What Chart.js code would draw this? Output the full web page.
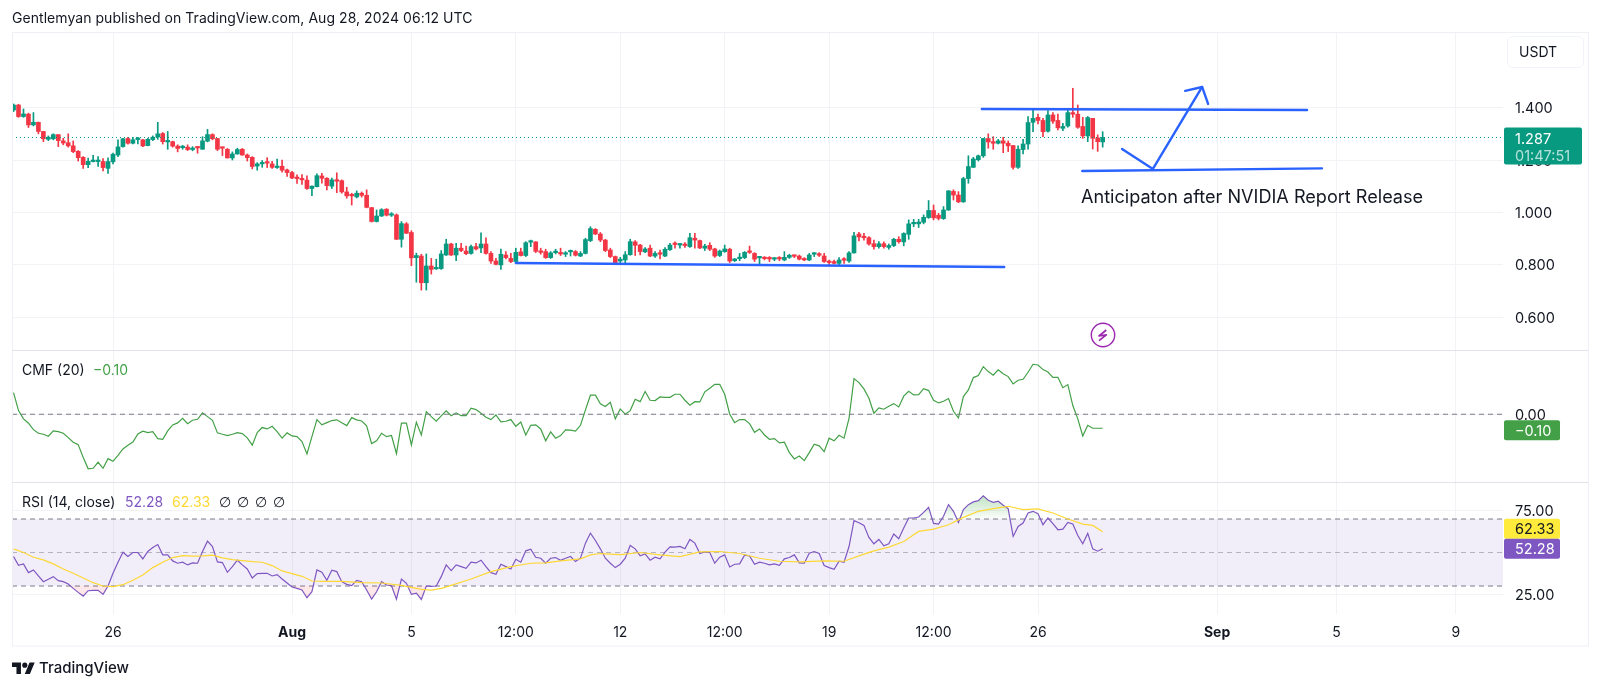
<!DOCTYPE html>
<html>
<head>
<meta charset="utf-8">
<script src="https://cdn.jsdelivr.net/npm/chart.js@4/dist/chart.umd.js"></script>
<style>
  html, body { margin: 0; background: #fff; }
  body { width: 1600px; height: 688px; position: relative; overflow: hidden; font-family: Inter, sans-serif; color: #131722; }
  canvas { position: absolute; left: 0; top: 0; }
  .t { position: absolute; white-space: nowrap; font-size: 14px; line-height: 18px; }
</style>
</head>
<body>
<canvas id="chart" width="1600" height="688"></canvas>
<div class="t" style="left:12px;top:9px;letter-spacing:.05px">Gentlemyan published on TradingView.com, Aug 28, 2024 06:12 UTC</div>
<div class="t" style="left:1507px;top:36px;width:75px;height:30px;border:1px solid #f0f3fa;border-radius:6px;line-height:30px;text-indent:11px">USDT</div>
<div class="t" style="left:22px;top:361px">CMF (20)</div>
<div class="t" style="left:93px;top:361px;color:#43a047">−0.10</div>
<div class="t" style="left:22px;top:493px">RSI (14, close)</div>
<div class="t" style="left:125px;top:493px;color:#7e57c2">52.28</div>
<div class="t" style="left:172px;top:493px;color:#fdd835">62.33</div>
<div class="t" style="left:219px;top:493px;font-family:'DejaVu Sans'">∅</div>
<div class="t" style="left:237px;top:493px;font-family:'DejaVu Sans'">∅</div>
<div class="t" style="left:255px;top:493px;font-family:'DejaVu Sans'">∅</div>
<div class="t" style="left:273px;top:493px;font-family:'DejaVu Sans'">∅</div>
<div class="t" style="left:1081px;top:185px;font-size:18.1px;line-height:22px">Anticipaton after NVIDIA Report Release</div>
<svg style="position:absolute;left:1089px;top:321px" width="28" height="28" viewBox="0 0 28 28">
  <circle cx="14" cy="14" r="11.7" fill="#fff" stroke="#9c27b0" stroke-width="1.4"/>
  <path d="M17.3 9L10 15l7.3-1.2L10 19.7" fill="none" stroke="#9c27b0" stroke-width="1.7" stroke-linejoin="round"/>
</svg>
<svg style="position:absolute;left:12px;top:660px" width="23" height="18" viewBox="0 0 36 28">
  <path d="M14 22H7V11H0V4h14v18zM28 22h-8l7.5-18h8L28 22z" fill="#131722"/><circle cx="20" cy="8" r="4" fill="#131722"/>
</svg>
<div class="t" style="left:39px;top:657px;font-size:15px;line-height:22px;font-weight:500">TradingView</div>
<script>
const opens = [
  1.392,1.411,1.367,1.376,1.335,1.345,1.310,1.280,1.282,1.298,
  1.274,1.267,1.255,1.234,1.211,1.183,1.195,1.195,1.195,1.169,
  1.194,1.220,1.252,1.283,1.265,1.279,1.278,1.256,1.279,1.289,
  1.302,1.270,1.271,1.254,1.248,1.250,1.241,1.250,1.242,1.273,
  1.298,1.283,1.248,1.242,1.209,1.224,1.242,1.220,1.211,1.178,
  1.186,1.191,1.186,1.172,1.177,1.163,1.153,1.132,1.130,1.124,
  1.092,1.099,1.140,1.131,1.101,1.125,1.122,1.079,1.069,1.060,
  1.074,1.066,1.019,.966,.987,1.013,.990,.991,.898,.957,
  .924,.828,.834,.732,.796,.785,.786,.838,.880,.838,
  .864,.853,.844,.870,.865,.880,.844,.815,.800,.838,
  .825,.813,.850,.836,.887,.888,.853,.851,.828,.847,
  .847,.841,.850,.851,.834,.844,.893,.936,.918,.895,
  .857,.832,.815,.819,.839,.888,.876,.850,.864,.834,
  .844,.834,.858,.881,.876,.879,.870,.902,.893,.864,
  .875,.861,.836,.851,.860,.816,.824,.828,.852,.844,
  .827,.828,.827,.822,.828,.819,.829,.836,.834,.824,
  .819,.841,.843,.834,.813,.813,.806,.823,.815,.846,
  .918,.909,.904,.881,.870,.881,.867,.874,.898,.888,
  .917,.957,.957,.963,.981,1.008,.990,.977,1.010,1.081,
  1.067,1.041,1.130,1.173,1.202,1.217,1.283,1.271,1.265,1.274,
  1.265,1.256,1.173,1.241,1.262,1.345,1.364,1.352,1.311,1.373,
  1.352,1.322,1.331,1.382,1.376,1.329,1.293,1.360,1.285,1.270
];
const closes = [
  1.411,1.367,1.377,1.335,1.345,1.310,1.282,1.288,1.298,1.275,
  1.266,1.255,1.233,1.210,1.183,1.196,1.197,1.197,1.172,1.195,
  1.223,1.251,1.282,1.265,1.278,1.284,1.255,1.280,1.288,1.301,
  1.271,1.274,1.254,1.245,1.252,1.241,1.245,1.247,1.274,1.298,
  1.282,1.242,1.246,1.209,1.224,1.241,1.220,1.210,1.176,1.186,
  1.189,1.189,1.173,1.176,1.162,1.153,1.132,1.130,1.125,1.092,
  1.101,1.141,1.131,1.103,1.125,1.120,1.079,1.064,1.064,1.074,
  1.066,1.020,.966,.987,1.011,.990,.995,.898,.958,.921,
  .827,.836,.732,.796,.783,.787,.842,.880,.838,.864,
  .855,.843,.870,.861,.880,.844,.815,.802,.841,.828,
  .813,.848,.836,.885,.890,.852,.848,.828,.846,.851,
  .842,.844,.853,.837,.844,.897,.939,.918,.895,.855,
  .832,.809,.822,.839,.889,.875,.851,.861,.834,.844,
  .841,.860,.876,.878,.879,.874,.904,.895,.865,.872,
  .860,.834,.853,.861,.815,.823,.829,.848,.848,.822,
  .829,.824,.823,.825,.823,.829,.837,.833,.822,.819,
  .838,.844,.837,.813,.809,.806,.819,.818,.846,.911,
  .907,.904,.880,.870,.881,.870,.874,.898,.889,.920,
  .957,.962,.964,.982,1.008,.980,.978,1.010,1.083,1.067,
  1.041,1.130,1.176,1.205,1.217,1.283,1.270,1.265,1.274,1.265,
  1.255,1.173,1.242,1.262,1.344,1.360,1.352,1.309,1.373,1.349,
  1.324,1.329,1.382,1.376,1.326,1.293,1.363,1.284,1.271,1.287
];
const highs = [
  1.415,1.414,1.396,1.380,1.382,1.346,1.310,1.293,1.301,1.298,
  1.284,1.301,1.274,1.237,1.214,1.208,1.219,1.214,1.206,1.209,
  1.227,1.278,1.284,1.288,1.288,1.288,1.280,1.284,1.293,1.345,
  1.306,1.310,1.273,1.259,1.257,1.259,1.252,1.252,1.290,1.318,
  1.301,1.284,1.250,1.245,1.232,1.246,1.245,1.224,1.214,1.191,
  1.199,1.210,1.196,1.204,1.201,1.166,1.158,1.144,1.145,1.140,
  1.102,1.148,1.150,1.134,1.132,1.152,1.125,1.097,1.074,1.083,
  1.079,1.087,1.020,1.010,1.015,1.015,1.000,.995,.966,.962,
  .931,.845,.841,.842,.825,.822,.855,.898,.883,.883,
  .883,.872,.876,.883,.923,.904,.851,.825,.861,.851,
  .844,.864,.864,.889,.895,.889,.864,.860,.851,.860,
  .864,.851,.857,.855,.851,.902,.946,.939,.924,.898,
  .864,.834,.829,.851,.898,.893,.879,.866,.876,.851,
  .857,.866,.883,.888,.883,.885,.921,.921,.895,.879,
  .885,.864,.857,.876,.864,.825,.844,.851,.872,.847,
  .832,.832,.832,.828,.832,.851,.841,.838,.838,.828,
  .844,.847,.847,.844,.819,.819,.828,.828,.851,.925,
  .925,.921,.908,.895,.889,.888,.880,.902,.908,.923,
  .972,.974,.974,.991,1.046,1.029,.997,1.023,1.084,1.087,
  1.080,1.135,1.217,1.211,1.220,1.284,1.301,1.290,1.280,1.288,
  1.274,1.257,1.255,1.280,1.367,1.395,1.376,1.360,1.390,1.382,
  1.376,1.341,1.395,1.475,1.411,1.364,1.367,1.360,1.297,1.309
];
const lows = [
  1.386,1.364,1.364,1.325,1.331,1.301,1.271,1.275,1.278,1.252,
  1.259,1.250,1.229,1.197,1.169,1.172,1.194,1.176,1.159,1.150,
  1.186,1.214,1.250,1.261,1.262,1.262,1.252,1.255,1.275,1.280,
  1.262,1.242,1.250,1.232,1.242,1.237,1.236,1.227,1.242,1.270,
  1.278,1.237,1.218,1.208,1.201,1.223,1.219,1.197,1.167,1.162,
  1.173,1.172,1.169,1.169,1.154,1.138,1.130,1.111,1.108,1.089,
  1.065,1.098,1.112,1.087,1.092,1.076,1.074,1.055,1.029,1.056,
  1.059,1.018,.964,.964,.985,.987,.985,.897,.868,.920,
  .797,.734,.704,.704,.765,.783,.783,.836,.836,.816,
  .851,.839,.841,.857,.847,.841,.806,.800,.783,.823,
  .809,.806,.834,.832,.870,.847,.841,.825,.825,.842,
  .836,.832,.834,.834,.832,.842,.889,.916,.889,.851,
  .828,.806,.804,.804,.837,.836,.838,.847,.832,.829,
  .823,.832,.855,.864,.864,.867,.867,.864,.862,.855,
  .855,.829,.832,.848,.809,.813,.816,.824,.844,.813,
  .804,.819,.813,.816,.816,.816,.825,.828,.819,.816,
  .816,.832,.832,.810,.799,.804,.800,.806,.810,.845,
  .892,.895,.876,.860,.864,.864,.860,.870,.883,.873,
  .898,.946,.943,.957,.978,.972,.972,.974,1.008,1.048,
  1.038,1.039,1.112,1.172,1.197,1.211,1.246,1.242,1.262,1.229,
  1.233,1.166,1.169,1.224,1.242,1.309,1.339,1.290,1.307,1.341,
  1.316,1.313,1.326,1.364,1.322,1.284,1.271,1.243,1.234,1.250
];

const cmf = [
  .155,.026,-.033,-.064,-.110,-.136,-.143,-.157,-.119,-.124,
  -.136,-.167,-.200,-.217,-.307,-.390,-.386,-.343,-.386,-.317,
  -.336,-.293,-.248,-.221,-.198,-.140,-.121,-.131,-.124,-.174,
  -.179,-.119,-.076,-.062,-.029,-.067,-.043,-.036,.010,-.017,
  -.043,-.133,-.143,-.152,-.143,-.131,-.138,-.169,-.221,-.131,
  -.095,-.105,-.086,-.124,-.171,-.133,-.155,-.160,-.195,-.283,
  -.160,-.038,-.076,-.060,-.045,-.040,-.060,-.081,-.024,-.040,
  -.048,-.083,-.210,-.190,-.136,-.160,-.152,-.281,-.064,-.064,
  -.219,-.057,-.148,.019,-.017,-.050,-.012,.024,-.010,.010,
  -.010,-.010,.043,.033,.007,-.021,-.038,-.005,-.055,-.050,
  -.038,-.086,-.055,-.148,-.079,-.076,-.105,-.190,-.126,-.171,
  -.152,-.112,-.114,-.121,-.079,.031,.136,.136,.074,.055,
  .086,-.033,.038,0,.026,.107,.090,.162,.100,.098,
  .124,.121,.121,.143,.143,.100,.064,.090,.088,.160,
  .186,.214,.214,.143,.002,-.060,-.038,-.038,-.067,-.129,
  -.105,-.148,-.179,-.174,-.205,-.200,-.274,-.319,-.298,-.331,
  -.274,-.214,-.226,-.267,-.171,-.190,-.150,-.171,-.029,.255,
  .226,.181,.114,.007,.045,.036,.057,.076,.052,.129,
  .164,.138,.140,.183,.169,.100,.081,.093,.112,.021,
  -.026,.126,.174,.262,.276,.340,.305,.279,.317,.290,
  .269,.217,.243,.250,.300,.357,.352,.319,.302,.264,
  .264,.190,.212,.062,-.033,-.155,-.079,-.100,-.100,-.100
];
const rsi = [
  47.6,42.4,43.2,38.0,39.6,36.0,32.6,34.0,35.6,33.2,
  32.6,31.2,28.6,26.2,24.0,27.2,27.4,27.4,25.0,30.0,
  37.6,44.2,50.2,47.6,50.0,50.0,46.2,50.6,53.0,54.8,
  48.6,48.6,45.0,43.6,44.2,42.6,43.8,43.6,50.6,56.8,
  53.6,44.4,44.0,38.2,41.6,45.4,42.6,40.2,34.8,37.4,
  37.6,37.6,36.0,36.8,34.2,31.8,29.4,28.6,27.6,23.0,
  26.6,39.6,38.2,33.4,39.4,38.6,32.6,31.0,30.2,33.4,
  32.6,27.6,22.2,26.6,32.6,30.6,30.2,22.2,34.2,31.6,
  25.0,25.8,22.0,30.0,29.8,30.0,35.6,42.6,39.2,42.6,
  41.6,40.6,44.2,43.8,45.4,41.6,38.0,37.0,43.0,41.6,
  40.2,46.0,44.2,51.0,52.0,47.2,46.6,43.6,46.6,47.0,
  45.4,46.6,47.6,44.6,46.6,55.6,61.6,57.2,52.2,46.6,
  43.6,41.0,43.0,46.6,54.2,52.2,48.0,49.2,45.4,47.2,
  46.2,50.2,53.4,53.2,53.6,52.2,57.8,55.6,49.4,50.4,
  50.0,43.6,47.2,48.6,41.4,43.0,43.2,48.4,48.0,43.0,
  44.2,43.6,42.6,43.2,42.4,46.2,47.0,48.6,43.8,43.6,
  49.6,50.6,49.4,42.2,41.0,40.0,44.8,44.2,53.6,69.0,
  67.8,66.2,59.0,55.2,57.8,54.0,55.2,61.0,58.2,64.6,
  70.6,70.6,71.2,74.0,77.0,67.4,67.0,71.6,78.6,74.6,
  68.0,75.6,78.6,80.2,81.0,83.8,81.2,80.0,80.6,78.2,
  76.2,59.6,65.6,67.6,73.6,74.6,73.2,66.6,70.6,67.2,
  63.6,64.0,68.0,67.0,60.2,55.2,61.4,52.2,50.8,52.28
];
// smoothed RSI, read at the candles where its shape changes
const rsiMaIndex = [
  0,2,4,6,8,10,12,14,16,18,20,22,24,26,28,30,32,34,36,38,40,42,44,46,48,50,52,54,56,58,60,62,66,70,74,78,82,84,86,88,
  92,96,100,104,107,110,114,116,118,122,126,130,134,138,142,146,150,154,158,163,167,170,173,176,179,182,185,188,191,
  194,197,200,203,206,209,212,215,217,219
];
const rsiMa = [
  52.2,50.0,47.2,45.6,43.2,40.2,37.6,34.8,32.0,30.0,29.6,30.8,33.4,36.6,41.0,44.2,47.0,48.2,47.8,48.0,48.4,46.8,45.8,45.2,44.6,44.2,42.2,39.0,37.4,35.8,33.0,32.8,32.8,32.0,31.8,30.4,28.0,27.6,28.6,30.4,
  34.2,38.6,41.6,43.6,43.8,45.0,46.2,48.6,49.4,48.8,50.0,48.6,47.6,50.4,50.6,49.4,46.6,44.8,44.4,45.0,44.8,48.0,51.0,53.2,56.6,62.6,64.0,66.6,71.0,
  74.6,76.2,77.6,75.6,76.0,73.6,70.0,67.0,66.2,62.33
];

const priceTicks = [0.6, 0.8, 1.0, 1.2, 1.4];
const cmfTicks = [0];
const rsiTicks = [25, 75];
const rsiBands = [70, 50, 30];
const timeTickIndex = [20, 56, 80, 101, 122, 143, 164, 185, 206, 242, 266, 290];
const timeTickLabels = ['26', 'Aug', '5', '12:00', '12', '12:00', '19', '12:00', '26', 'Sep', '5', '9'];
const boldTimeLabels = ['Aug', 'Sep'];
const lastPrice = 1.287;
const countdown = '01:47:51';
const lastCmf = -0.10;
const lastRsi = 52.28;
const lastRsiMa = 62.33;

// hand drawn lines on the chart, candle index / price
const supportX = [101.0, 199.2];
const supportY = [0.8075, 0.792];
const rangeTopX = [194.7, 260.1];
const rangeTopY = [1.396, 1.392];
const rangeLowX = [214.9, 263.1];
const rangeLowY = [1.159, 1.169];
const arrowX = [222.9, 229.1, 239.0];
const arrowY = [1.243, 1.167, 1.480];
const arrowHeadX = [235.6, 239.0, 240.2];
const arrowHeadY = [1.465, 1.480, 1.415];

const GREEN = '#089981', RED = '#F23645', BLUE = '#2962FF', GRID = '#f2f3f6', SEP = '#e0e3eb', FRAME = '#eef0f5';
const xMin = -0.31, xMax = 299.5;
const pts = (xs, ys) => xs.map((x, i) => ({ x, y: ys[i] }));
const series = ys => ys.map((y, i) => ({ x: i, y }));
const flat = v => pts([xMin, xMax], [v, v]);
const candleColor = opens.map((o, i) => closes[i] >= o ? GREEN : RED);

const ctx = document.getElementById('chart').getContext('2d');
const obGradient = ctx.createLinearGradient(0, 496, 0, 519);
obGradient.addColorStop(0, 'rgba(76,175,80,.35)');
obGradient.addColorStop(1, 'rgba(76,175,80,.02)');

const drawn = (xs, ys) => ({
  type: 'line', data: pts(xs, ys), yAxisID: 'price', borderColor: BLUE, borderWidth: 2.4,
  pointRadius: 0, tension: 0, order: 1, borderCapStyle: 'round', borderJoinStyle: 'round'
});
const plain = (data, yAxisID, color, extra) => Object.assign({
  type: 'line', data, yAxisID, borderColor: color, borderWidth: 1.2, pointRadius: 0, tension: 0, order: 3
}, extra);

// frame around the panes, pane separators, price tags on the axis
const extras = {
  id: 'extras',
  afterDraw(chart) {
    const c = chart.ctx, a = chart.chartArea, s = chart.scales;
    c.save();
    c.lineWidth = 1;
    const cw = chart.width - a.left;
    c.strokeStyle = FRAME;
    c.strokeRect(a.left + .5, a.top + .5, cw - 12, s.x.bottom - a.top - .5);
    c.strokeStyle = SEP;
    [s.price.bottom, s.cmf.bottom].forEach(y => {
      c.beginPath(); c.moveTo(a.left, Math.round(y) + .5); c.lineTo(a.left + cw - 12, Math.round(y) + .5); c.stroke();
    });
    c.font = '14.5px Inter';
    c.textBaseline = 'middle';
    const tag = (top, w, h, bg, rows) => {
      c.fillStyle = bg;
      c.beginPath(); c.roundRect(a.right + 1, top, w, h, 2); c.fill();
      rows.forEach(r => { c.fillStyle = r.color; c.fillText(r.text, a.right + 12, top + r.dy); });
    };
    tag(s.price.getPixelForValue(lastPrice) - 10, 78, 37, GREEN, [
      { text: lastPrice.toFixed(3), color: '#fff', dy: 12 },
      { text: countdown, color: 'rgba(255,255,255,.7)', dy: 29 }
    ]);
    tag(s.cmf.getPixelForValue(lastCmf) - 8, 56, 20, '#43a047', [{ text: '−' + Math.abs(lastCmf).toFixed(2), color: '#fff', dy: 11 }]);
    const py = s.rsi.getPixelForValue(lastRsi) - 10;
    tag(py - 20, 56, 20, '#ffeb3b', [{ text: lastRsiMa.toFixed(2), color: '#131722', dy: 11 }]);
    tag(py, 56, 20, '#7e57c2', [{ text: lastRsi.toFixed(2), color: '#fff', dy: 11 }]);
    c.restore();
  }
};

const yAxis = (stackWeight, weight, min, max, values, digits) => ({
  type: 'linear', axis: 'y', position: 'right', stack: 'panes', stackWeight, weight, min, max, beginAtZero: false,
  afterBuildTicks: s => { s.ticks = values.map(value => ({ value })); },
  afterFit: s => { s.width = 85; },
  grid: { color: GRID, drawTicks: false },
  border: { display: false },
  ticks: {
    padding: 12, crossAlign: 'near', color: '#131722', font: { family: 'Inter', size: 14.5 }, labelOffset: 1,
    callback: v => v.toFixed(digits)
  }
});

new Chart(ctx, {
  type: 'bar',
  data: {
    datasets: [
      { data: opens.map((o, i) => ({ x: i, y: [lows[i], highs[i]] })), yAxisID: 'price', backgroundColor: candleColor, barThickness: 1, grouped: false, order: 5 },
      { data: opens.map((o, i) => ({ x: i, y: [o, closes[i]] })), yAxisID: 'price', backgroundColor: candleColor, barThickness: 4, minBarLength: 1.5, grouped: false, order: 4 },
      plain(flat(lastPrice), 'price', GREEN, { borderDash: [1, 3], borderWidth: 1 }),
      drawn(supportX, supportY),
      drawn(rangeTopX, rangeTopY),
      drawn(rangeLowX, rangeLowY),
      drawn(arrowX, arrowY),
      drawn(arrowHeadX, arrowHeadY),
      plain(flat(0), 'cmf', '#787b86', { borderDash: [5, 4], borderWidth: 1 }),
      plain(series(cmf), 'cmf', '#43a047'),
      plain(flat(rsiBands[0]), 'rsi', '#787b86', { borderDash: [5, 4], borderWidth: 1, fill: { target: { value: rsiBands[2] }, above: 'rgba(126,87,194,.1)' }, order: 6 }),
      plain(flat(rsiBands[1]), 'rsi', 'rgba(120,123,134,.5)', { borderDash: [5, 4], borderWidth: 1, order: 6 }),
      plain(flat(rsiBands[2]), 'rsi', '#787b86', { borderDash: [5, 4], borderWidth: 1, order: 6 }),
      plain(series(rsi), 'rsi', '#7e57c2', { fill: { target: { value: rsiBands[0] }, above: obGradient, below: 'transparent' } }),
      plain(series(rsi), 'rsi', 'transparent', { borderWidth: 0, fill: { target: { value: rsiBands[2] }, above: 'transparent', below: 'rgba(242,54,69,.12)' }, order: 4 }),
      plain(pts(rsiMaIndex, rsiMa), 'rsi', '#fdd835', { order: 2 })
    ]
  },
  options: {
    responsive: false,
    animation: false,
    devicePixelRatio: 1,
    layout: { padding: { left: 12, right: 12, top: 32, bottom: 42 } },
    plugins: { legend: { display: false }, tooltip: { enabled: false } },
    scales: {
      x: {
        type: 'linear', min: xMin, max: xMax, offset: false,
        afterBuildTicks: s => { s.ticks = timeTickIndex.map(value => ({ value })); },
        afterFit: s => { s.height = 32; },
        grid: { color: GRID, offset: false, drawTicks: false },
        border: { display: false },
        ticks: {
          autoSkip: false, maxRotation: 0, padding: 10, color: '#131722',
          callback: (v, i) => timeTickLabels[i],
          font: c => ({ family: 'Inter', size: 14, weight: boldTimeLabels.includes(timeTickLabels[c.index]) ? '700' : '400' })
        }
      },
      price: yAxis(318, 1, 0.475, 1.69, priceTicks, 3),
      cmf: yAxis(132, 2, -0.484, 0.459, cmfTicks, 2),
      rsi: yAxis(132, 3, 13.3, 92.1, rsiTicks, 2)
    }
  },
  plugins: [extras]
});
</script>
</body>
</html>
